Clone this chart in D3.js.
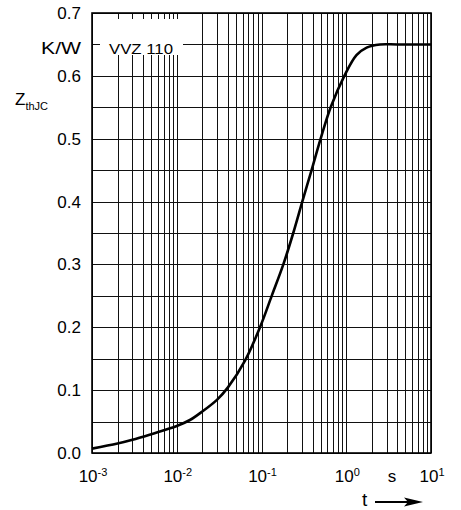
<!DOCTYPE html>
<html>
<head>
<meta charset="utf-8">
<script src="https://cdn.jsdelivr.net/npm/d3@7"></script>
<style>
  body { margin: 0; background: #fff; }
  svg { display: block; font-family: "Liberation Sans", Arial, sans-serif; }
</style>
</head>
<body>
<script>
// curve: time in s, Z_thJC in K/W
var times = [0.001, 0.002, 0.003, 0.005, 0.01, 0.0143, 0.02, 0.03, 0.04, 0.0639, 0.096, 0.132, 0.181, 0.237, 0.303, 0.39, 0.499, 0.655, 0.95, 1.32, 1.74, 2.5, 4, 10];
var zth = [0.007, 0.015, 0.021, 0.030, 0.043, 0.0525, 0.066, 0.085, 0.104, 0.147, 0.200, 0.250, 0.300, 0.350, 0.400, 0.450, 0.500, 0.550, 0.600, 0.633, 0.645, 0.650, 0.650, 0.650];

var yTicks = [0, 0.1, 0.2, 0.3, 0.4, 0.5, 0.6, 0.7];
var yGrid = d3.range(0, 0.7001, 0.05);
var xDecades = [-3, -2, -1, 0, 1];

var width = 461, height = 510;
var margin = {top: 13, right: 30, bottom: 57, left: 92};

var x = d3.scaleLog().domain([1e-3, 10]).range([margin.left, width - margin.right]);
var y = d3.scaleLinear().domain([0, 0.7]).range([height - margin.bottom, margin.top]);

var svg = d3.select("body").append("svg")
	.attr("width", width)
	.attr("height", height);

// log grid: 1..9 in every decade
var xGrid = [];
for (var d = -3; d < 1; d++) {
	for (var m = 1; m < 10; m++) {
		xGrid.push(m * Math.pow(10, d));
	}
}
xGrid.push(10);

var grid = svg.append("g").attr("stroke", "#111").attr("stroke-width", 1);

grid.selectAll("line.v")
	.data(xGrid)
	.enter().append("line")
	.attr("class", "v")
	.attr("x1", function(d) { return Math.round(x(d)) + 0.5; })
	.attr("x2", function(d) { return Math.round(x(d)) + 0.5; })
	.attr("y1", y(0.7))
	.attr("y2", y(0));

grid.selectAll("line.h")
	.data(yGrid)
	.enter().append("line")
	.attr("class", "h")
	.attr("x1", x(1e-3))
	.attr("x2", x(10))
	.attr("y1", function(d) { return Math.round(y(d)) + 0.5; })
	.attr("y2", function(d) { return Math.round(y(d)) + 0.5; });

// frame
svg.append("rect")
	.attr("x", x(1e-3))
	.attr("y", y(0.7))
	.attr("width", x(10) - x(1e-3))
	.attr("height", y(0) - y(0.7))
	.attr("fill", "none")
	.attr("stroke", "#000")
	.attr("stroke-width", 1.6);

// type label, on a white patch over the grid
svg.append("rect")
	.attr("x", 100).attr("y", 19)
	.attr("width", 83).attr("height", 36)
	.attr("fill", "#fff");
svg.append("text")
	.attr("x", 109).attr("y", 54)
	.attr("font-size", 15)
	.attr("textLength", 64)
	.attr("lengthAdjust", "spacingAndGlyphs")
	.text("VVZ 110");

// curve
var line = d3.line()
	.x(function(d) { return x(d[0]); })
	.y(function(d) { return y(d[1]); })
	.curve(d3.curveCatmullRom.alpha(0.5));

svg.append("path")
	.datum(d3.zip(times, zth))
	.attr("d", line)
	.attr("fill", "none")
	.attr("stroke", "#000")
	.attr("stroke-width", 2.6);

// y axis labels
var yAxis = d3.axisLeft(y)
	.tickValues(yTicks)
	.tickSize(0)
	.tickPadding(11)
	.tickFormat(d3.format(".1f"));

var ya = svg.append("g")
	.attr("transform", "translate(" + margin.left + ",0)")
	.call(yAxis);
ya.select(".domain").remove();
ya.selectAll("text")
	.attr("font-size", 17)
	.attr("font-family", "Liberation Sans, Arial, sans-serif")
	.attr("fill", "#000");

svg.append("text")
	.attr("x", 81).attr("y", y(0.65) + 10)
	.attr("text-anchor", "end")
	.attr("font-size", 17)
	.attr("textLength", 40)
	.attr("lengthAdjust", "spacingAndGlyphs")
	.text("K/W");

var zl = svg.append("text").attr("x", 15).attr("y", 105).attr("font-size", 17);
zl.append("tspan").text("Z");
zl.append("tspan").attr("font-size", 11).attr("dy", 5).text("thJC");

// x axis labels
var xl = svg.selectAll("text.xl")
	.data(xDecades)
	.enter().append("text")
	.attr("class", "xl")
	.attr("x", function(d) { return x(Math.pow(10, d)) + 1; })
	.attr("y", 482)
	.attr("text-anchor", "middle")
	.attr("font-size", 17);
xl.append("tspan").text("10");
xl.append("tspan")
	.attr("font-size", 11)
	.attr("dy", -6)
	.text(function(d) { return d < 0 ? "-" + Math.abs(d) : d; });

svg.append("text")
	.attr("x", 392).attr("y", 482)
	.attr("text-anchor", "middle")
	.attr("font-size", 17)
	.text("s");

svg.append("text")
	.attr("x", 362).attr("y", 506)
	.attr("font-size", 19)
	.text("t");

svg.append("line")
	.attr("x1", 375).attr("x2", 410)
	.attr("y1", 502).attr("y2", 502)
	.attr("stroke", "#000")
	.attr("stroke-width", 2);
svg.append("path")
	.attr("d", "M423,502 L404,497.5 L408,502 L404,506.5 Z")
	.attr("fill", "#000");
</script>
</body>
</html>
